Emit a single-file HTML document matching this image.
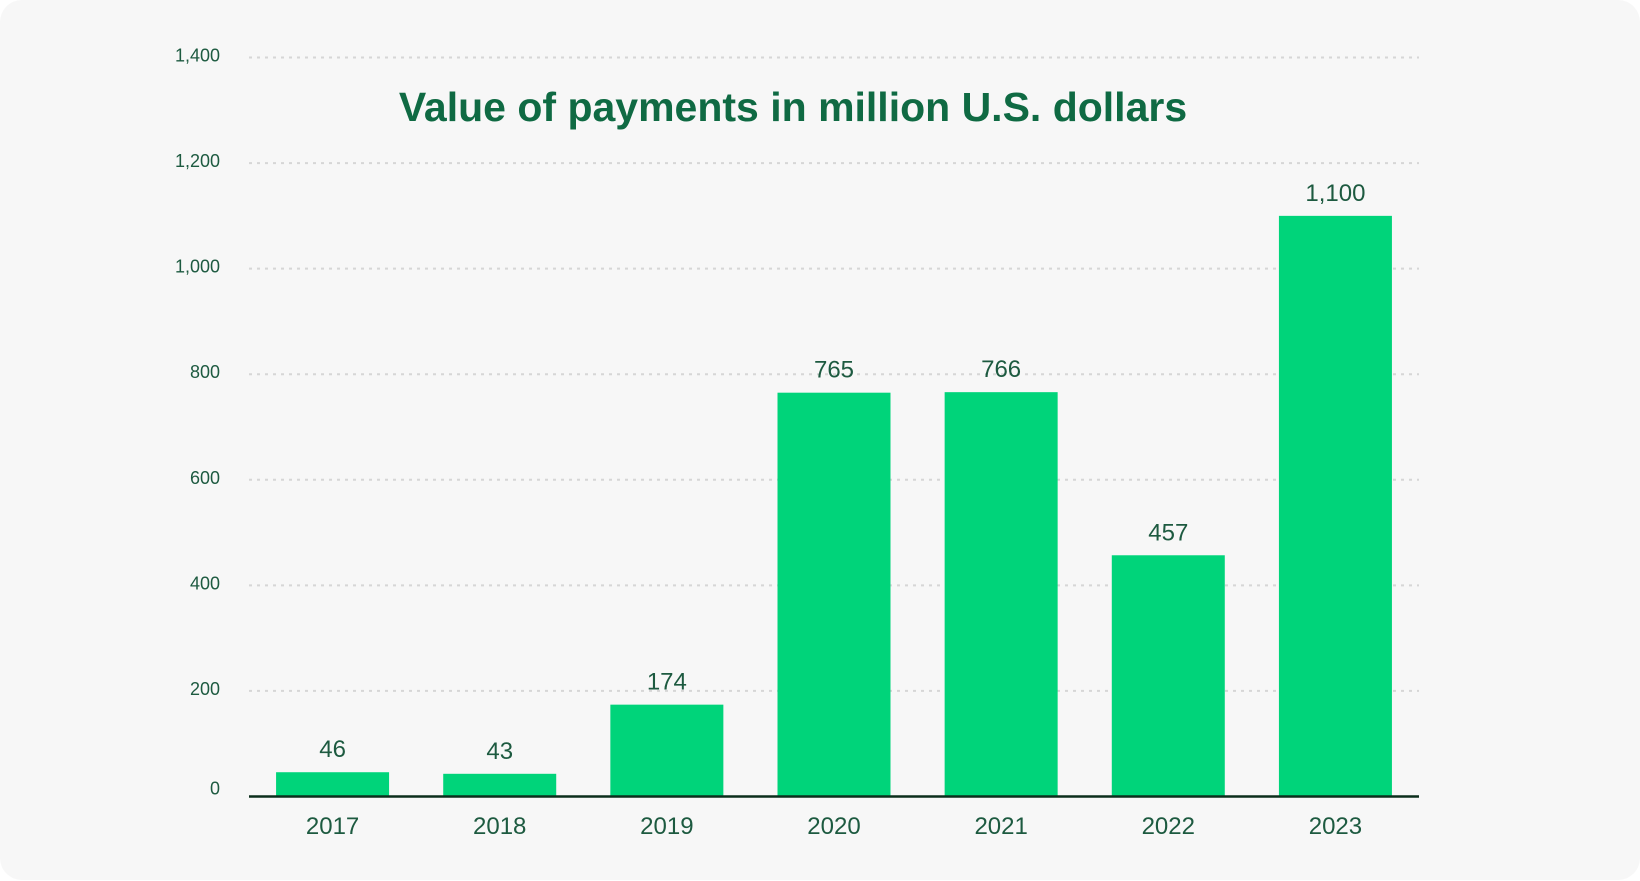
<!DOCTYPE html>
<html><head><meta charset="utf-8"><style>
html,body{margin:0;padding:0;background:#fff;}
#card{position:absolute;left:0;top:0;width:1640px;height:880px;background:#f7f7f7;border-radius:22px;}
svg{position:absolute;left:0;top:0;}
text{font-family:"Liberation Sans",sans-serif;}
</style></head><body>
<div id="card"></div>
<svg id="chart" width="1640" height="881">
<text x="793" y="121" text-anchor="middle" font-size="41" font-weight="bold" fill="#0f6a43">Value of payments in million U.S. dollars</text>
</svg>
<script>
const categories=["2017","2018","2019","2020","2021","2022","2023"];
const values=[46,43,174,765,766,457,1100];
const labels=["46","43","174","765","766","457","1,100"];
const ticks=[0,200,400,600,800,1000,1200,1400];
const tickLabels=["0","200","400","600","800","1,000","1,200","1,400"];
const svg=document.getElementById('chart');
const NS='http://www.w3.org/2000/svg';
const x0=249,x1=1419,yBase=796.5,yTop=57.5,yMax=1400;
const y=v=>yBase-(v/yMax)*(yBase-yTop);
const step=(x1-x0)/categories.length;
const xc=i=>x0+step*(i+0.5);
const bw=113;
function mk(t,a){const e=document.createElementNS(NS,t);for(const k in a)e.setAttribute(k,a[k]);svg.appendChild(e);return e;}
ticks.forEach((t,i)=>{
  if(t>0){const g=mk('line',{x1:x0,x2:x1,y1:y(t),y2:y(t),stroke:'#d6d6d6','stroke-width':2,'stroke-dasharray':'3 5'});
  
  }
  const tx=mk('text',{x:220,y:y(t)+(t===0?-2:4),'text-anchor':'end','font-size':18,fill:'#1d5a40'});
  tx.textContent=tickLabels[i];
  
  
});
categories.forEach((c,i)=>{
  const r=mk('rect',{x:xc(i)-bw/2,y:y(values[i]),width:bw,height:yBase-y(values[i]),fill:'#00d47a'});
  
  
  const v=mk('text',{x:xc(i),y:y(values[i])-15,'text-anchor':'middle','font-size':24,fill:'#1d5a40'});
  v.textContent=labels[i];
  
  
  const l=mk('text',{x:xc(i),y:834,'text-anchor':'middle','font-size':24,fill:'#1d5a40'});
  l.textContent=c;
  
  
});
const ax=mk('line',{x1:x0,x2:x1,y1:yBase,y2:yBase,stroke:'#0b2e1c','stroke-width':2.5});


</script>
</body></html>
